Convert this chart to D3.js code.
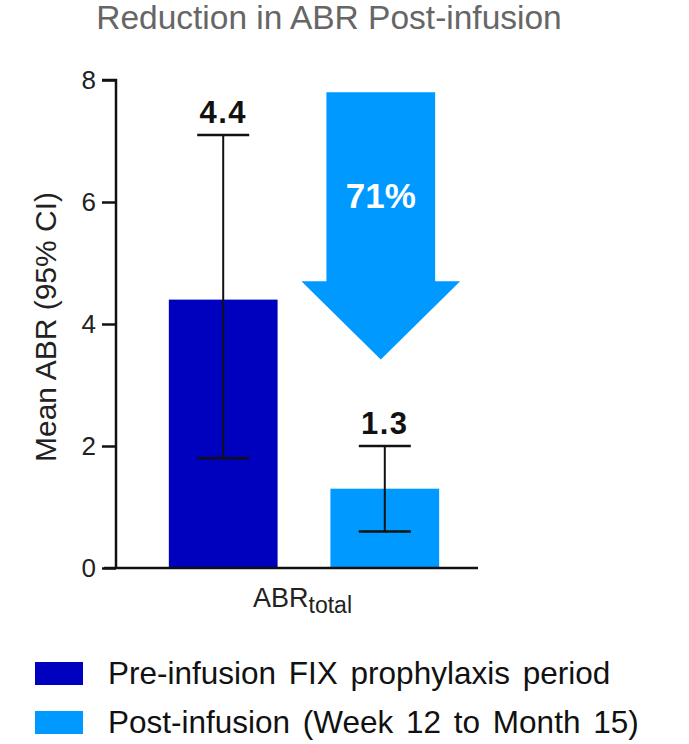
<!DOCTYPE html>
<html>
<head>
<meta charset="utf-8">
<script src="https://cdn.jsdelivr.net/npm/d3@7"></script>
<style>
  body { margin: 0; background: #fff; }
  text { font-family: "Liberation Sans", Arial, sans-serif; }
</style>
</head>
<body>
<div id="chart"></div>
<script>
const categories = ["Pre-infusion FIX prophylaxis period", "Post-infusion (Week 12 to Month 15)"];
const means = [4.4, 1.3];
const ciLow = [1.8, 0.6];
const ciHigh = [7.1, 2.0];
const colors = ["#0000BF", "#0099FF"];
const yTicks = [0, 2, 4, 6, 8];
const reduction = "71%";

const width = 689;
const height = 744;

const svg = d3.select("#chart")
  .append("svg")
  .attr("width", width)
  .attr("height", height);

const x = d3.scaleBand()
  .domain(categories)
  .range([116, 492])
  .paddingInner(0.327)
  .paddingOuter(0.327);

const y = d3.scaleLinear()
  .domain([0, 8])
  .range([568, 80]);

// title
svg.append("text")
  .attr("x", 329)
  .attr("y", 29)
  .attr("text-anchor", "middle")
  .style("font-size", "33.5px")
  .style("fill", "#666")
  .text("Reduction in ABR Post-infusion");

// bars
svg.selectAll("rect.bar")
  .data(categories)
  .enter()
  .append("rect")
  .attr("class", "bar")
  .attr("x", d => x(d))
  .attr("y", (d, i) => y(means[i]))
  .attr("width", x.bandwidth())
  .attr("height", (d, i) => y(0) - y(means[i]))
  .style("fill", (d, i) => colors[i]);

// error bars
const cx = d => x(d) + x.bandwidth() / 2;
const cap = 26;

const err = svg.selectAll("g.err")
  .data(categories)
  .enter()
  .append("g")
  .attr("class", "err")
  .style("stroke", "#111");

err.append("line")
  .attr("x1", cx).attr("x2", cx)
  .attr("y1", (d, i) => y(ciLow[i]))
  .attr("y2", (d, i) => y(ciHigh[i]))
  .style("stroke-width", 2);

err.append("line")
  .attr("x1", d => cx(d) - cap).attr("x2", d => cx(d) + cap)
  .attr("y1", (d, i) => y(ciHigh[i]))
  .attr("y2", (d, i) => y(ciHigh[i]))
  .style("stroke-width", 2.5);

err.append("line")
  .attr("x1", d => cx(d) - cap).attr("x2", d => cx(d) + cap)
  .attr("y1", (d, i) => y(ciLow[i]))
  .attr("y2", (d, i) => y(ciLow[i]))
  .style("stroke-width", 2.5);

// value labels
svg.selectAll("text.val")
  .data(categories)
  .enter()
  .append("text")
  .attr("class", "val")
  .attr("x", cx)
  .attr("y", (d, i) => y(ciHigh[i]) - 12)
  .attr("text-anchor", "middle")
  .style("font-size", "31px")
  .style("letter-spacing", "1.5px")
  .style("font-weight", "bold")
  .style("fill", "#111")
  .text((d, i) => means[i].toFixed(1));

// reduction arrow over the second bar
const ax = cx(categories[1]) - 4;
const shaft = x.bandwidth() / 2;
const head = shaft + 25;
const arrow = [
  [ax - shaft, y(7.8)], [ax + shaft, y(7.8)],
  [ax + shaft, y(4.7)], [ax + head, y(4.7)],
  [ax, y(3.42)],
  [ax - head, y(4.7)], [ax - shaft, y(4.7)]
];
svg.append("path")
  .attr("d", d3.line()(arrow) + "Z")
  .style("fill", colors[1]);

svg.append("text")
  .attr("x", ax)
  .attr("y", y(5.9))
  .attr("text-anchor", "middle")
  .style("font-size", "35px")
  .style("font-weight", "bold")
  .style("fill", "#fff")
  .text(reduction);

// axes
const yAxis = svg.append("g")
  .attr("transform", "translate(116,0)")
  .call(d3.axisLeft(y).tickValues(yTicks).tickSize(14).tickPadding(6));

yAxis.select(".domain").attr("d", `M-14,${y(8)}H0V${y(0)}`);
yAxis.selectAll("path, line").style("stroke", "#111").style("stroke-width", 2.5);
yAxis.selectAll("text")
  .style("font-size", "26px")
  .style("fill", "#222")
  .style("font-family", "Liberation Sans, Arial, sans-serif");

svg.append("line")
  .attr("x1", 104).attr("x2", 478)
  .attr("y1", y(0)).attr("y2", y(0))
  .style("stroke", "#111")
  .style("stroke-width", 2.5);

// x label
const xl = svg.append("text")
  .attr("x", 253)
  .attr("y", 607)
  .style("font-size", "27px")
  .style("fill", "#222");
xl.append("tspan").text("ABR");
xl.append("tspan").attr("dy", 6).style("font-size", "23px").text("total");

// y label
svg.append("text")
  .attr("transform", `translate(56,${(y(0) + y(8)) / 2 + 3}) rotate(-90)`)
  .attr("text-anchor", "middle")
  .style("font-size", "30px")
  .style("fill", "#222")
  .text("Mean ABR (95% CI)");

// legend
const legend = svg.selectAll("g.leg")
  .data(categories)
  .enter()
  .append("g")
  .attr("class", "leg")
  .attr("transform", (d, i) => `translate(35,${662 + i * 49})`);

legend.append("rect")
  .attr("width", 48)
  .attr("height", 23)
  .style("fill", (d, i) => colors[i]);

legend.append("text")
  .attr("x", 73)
  .attr("y", 22)
  .style("font-size", "31.5px")
  .style("word-spacing", "4px")
  .style("fill", "#111")
  .text(d => d);
</script>
</body>
</html>
